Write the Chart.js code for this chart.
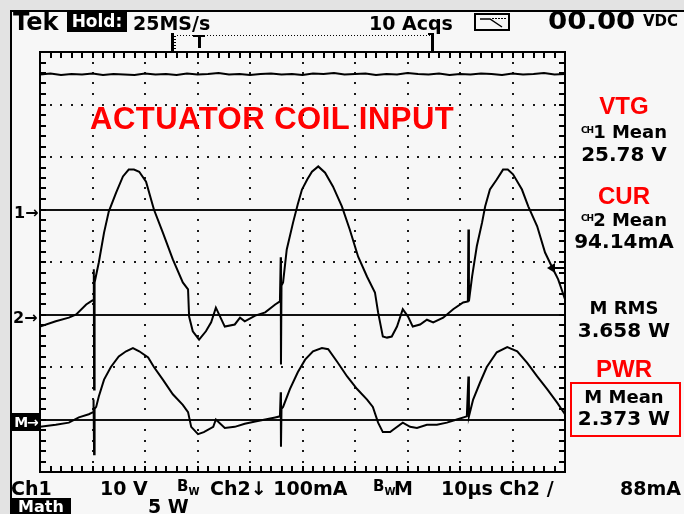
<!DOCTYPE html>
<html>
<head>
<meta charset="utf-8">
<script src="https://cdn.jsdelivr.net/npm/chart.js@4"></script>
<style>
  body { margin: 0; background: #e3e3e3; }
  #pantalla { position: relative; width: 684px; height: 514px; overflow: hidden; }
  #fondo { position: absolute; left: 10px; top: 10px; width: 674px; height: 504px; background: #f7f7f7;
           border-left: 2px solid #000; border-top: 2px solid #000; box-sizing: border-box; }
  #grafico { position: absolute; left: 0; top: 0; }
  .t { position: absolute; font-family: "DejaVu Sans", sans-serif; font-weight: bold; font-size: 19px;
       line-height: 1; white-space: nowrap; color: #000; }
  .inv { background: #000; color: #fff; text-align: center; }
  .rojo { font-family: "Liberation Sans", Arial, sans-serif; color: #f00; }
  .panel { left: 568px; width: 112px; text-align: center; }
  .ch { font-size: 9px; vertical-align: 5px; letter-spacing: -1px; }
  sub { font-size: 10px; vertical-align: -4px; }
</style>
</head>
<body>
<div id="pantalla">
  <div id="fondo"></div>
  <canvas id="grafico" width="684" height="514"></canvas>

  <div class="t" style="left:13px;top:10px;font-size:24px;">Tek</div>
  <div class="t inv" style="left:67px;top:11px;width:60px;height:21px;font-size:17px;line-height:21px;">Hold:</div>
  <div class="t" style="left:133px;top:14px;">25MS/s</div>
  <div class="t" style="left:369px;top:14px;">10 Acqs</div>
  <div class="t" style="left:548px;top:9px;font-size:24px;transform:scaleX(1.15);transform-origin:left top;">00.00</div>
  <div class="t" style="left:643px;top:14px;font-size:15px;">VDC</div>

  <div class="t rojo" style="left:90px;top:103px;font-size:31px;letter-spacing:0.5px;">ACTUATOR COIL INPUT</div>

  <div class="t" style="left:14px;top:205px;font-size:16px;">1→</div>
  <div class="t" style="left:13px;top:310px;font-size:16px;">2→</div>
  <div class="t inv" style="left:12px;top:413px;width:28px;height:18px;font-size:14px;line-height:18px;letter-spacing:-1px;">M→</div>

  <div class="t rojo panel" style="top:94px;font-size:24px;">VTG</div>
  <div class="t panel" style="top:123px;font-size:18px;"><span class="ch">CH</span>1 Mean</div>
  <div class="t panel" style="top:144px;font-size:20px;">25.78 V</div>
  <div class="t rojo panel" style="top:184px;font-size:24px;">CUR</div>
  <div class="t panel" style="top:211px;font-size:18px;"><span class="ch">CH</span>2 Mean</div>
  <div class="t panel" style="top:231px;font-size:20px;">94.14mA</div>
  <div class="t panel" style="top:299px;font-size:18px;">M RMS</div>
  <div class="t panel" style="top:320px;font-size:20px;">3.658 W</div>
  <div class="t rojo panel" style="top:357px;font-size:24px;">PWR</div>
  <div style="position:absolute;left:570px;top:382px;width:111px;height:55px;border:2px solid #f00;box-sizing:border-box;"></div>
  <div class="t panel" style="top:388px;font-size:18px;">M Mean</div>
  <div class="t panel" style="top:408px;font-size:20px;">2.373 W</div>

  <div class="t" style="left:11px;top:479px;">Ch1</div>
  <div class="t" style="left:100px;top:479px;">10 V</div>
  <div class="t" style="left:177px;top:479px;font-size:15px;">B<sub>W</sub></div>
  <div class="t" style="left:210px;top:479px;">Ch2↓ 100mA</div>
  <div class="t" style="left:373px;top:479px;font-size:15px;">B<sub>W</sub></div>
  <div class="t" style="left:394px;top:479px;">M</div>
  <div class="t" style="left:441px;top:479px;">10µs Ch2 /</div>
  <div class="t" style="left:620px;top:479px;">88mA</div>
  <div class="t inv" style="left:11px;top:498px;width:60px;height:16px;font-size:16px;line-height:17px;">Math</div>
  <div class="t" style="left:148px;top:497px;">5 W</div>
</div>

<script>
// escalas del osciloscopio (divisiones)
const divisionesX = 10;
const divisionesY = 8;
const usPorDiv = 10;
const ch1Ref = 5, ch2Ref = 3, mathRef = 1;
const voltsPorDiv = 10, maPorDiv = 100, wattsPorDiv = 5;
const disparoMa = 88;

// Ch1 (V)
const ch1Tiempo = [0, 2, 4, 6, 8, 10, 12, 14, 16, 18,
  20, 22, 24, 26, 28, 30, 32, 34, 36, 38,
  40, 42, 44, 46, 48, 50, 52, 54, 56, 58,
  60, 62, 64, 66, 68, 70, 72, 74, 76, 78,
  80, 82, 84, 86, 88, 90, 92, 94, 96, 98, 100];
const ch1Volts = [25.7, 25.9, 25.6, 25.8, 25.7, 25.9, 25.6, 25.8, 25.7, 25.6,
  25.9, 25.7, 25.8, 25.6, 25.9, 25.7, 25.8, 26.0, 25.7, 25.8,
  25.6, 25.8, 25.9, 25.7, 25.8, 25.6, 25.9, 25.8, 26.0, 25.7,
  25.8, 25.9, 25.6, 25.8, 25.7, 26.0, 25.8, 25.7, 25.9, 25.6,
  25.8, 25.7, 25.9, 25.8, 25.6, 25.9, 25.7, 25.8, 26.0, 25.7, 25.8];

// Ch2 (mA)
const ch2Tiempo = [0, 3.0, 5.5, 6.9, 8.8, 9.7, 10.2, 10.25, 10.3, 10.4,
  11.2, 12.2, 13.1, 14.5, 15.8, 16.9, 17.9, 18.9, 20.2, 21.7,
  23.4, 25.3, 27.2, 28.2, 28.4, 29.1, 30.3, 31.6, 32.6, 33.5,
  35.2, 37.1, 38.1, 39.0, 41.0, 42.9, 44.8, 45.7, 45.85, 45.9,
  46.0, 46.3, 47.0, 48.2, 49.1, 49.9, 50.9, 51.8, 53.0, 54.3,
  55.8, 57.5, 59.0, 60.6, 62.3, 63.8, 64.4, 65.3, 66.1, 67.0,
  68.0, 69.1, 70.1, 71.0, 72.4, 73.7, 74.9, 76.8, 78.7, 80.6,
  81.5, 81.6, 81.7, 82.3, 83.2, 84.2, 84.8, 85.7, 87.0, 88.2,
  89.1, 90.1, 91.8, 93.0, 94.7, 96.2, 97.5, 98.7, 100];
const ch2Ma = [-23, -13, -6, 0, 19, 25, 28, 86, -143, 61,
  99, 156, 196, 232, 263, 276, 276, 272, 253, 200,
  156, 105, 61, 48, -4, -32, -48, -32, -15, 13,
  -23, -19, -6, -13, -2, 4, 19, 25, 109, -95,
  55, 61, 124, 175, 210, 238, 257, 272, 282, 270,
  244, 206, 162, 110, 72, 42, 4, -42, -44, -42,
  -23, 10, -4, -23, -19, -10, -15, -6, 10, 23,
  25, 162, 25, 72, 130, 175, 206, 238, 257, 276,
  276, 267, 238, 206, 168, 118, 91, 67, 29];

// Math (W)
const mathTiempo = [0, 3.0, 5.5, 7.4, 9.3, 10.1, 10.2, 10.3, 10.4, 10.7,
  11.2, 12.2, 13.5, 15.0, 16.4, 17.7, 18.9, 20.6, 21.7, 23.4,
  25.3, 27.2, 28.2, 28.8, 30.1, 31.2, 33.0, 33.5, 35.2, 37.1,
  39.0, 41.0, 42.9, 44.8, 45.7, 45.85, 45.9, 46.0, 46.3, 47.6,
  49.1, 50.5, 52.0, 53.7, 54.9, 56.6, 58.5, 60.4, 62.3, 63.4,
  64.4, 65.3, 66.7, 67.2, 69.1, 70.5, 71.8, 73.7, 75.6, 77.5,
  79.4, 81.3, 81.6, 81.7, 82.5, 83.8, 85.1, 87.0, 89.0, 90.9,
  92.8, 94.7, 96.6, 98.5, 100];
const mathWatts = [-0.7, -0.5, -0.3, 0.2, 0.5, 0.7, 1.9, -3.3, 1.0, 1.2,
  2.2, 3.8, 5.0, 6.0, 6.5, 6.8, 6.5, 5.9, 5.0, 3.8,
  2.4, 1.4, 0.7, -0.7, -1.4, -1.2, -0.7, 0, -0.8, -0.7,
  -0.4, -0.2, 0, 0.2, 0.3, 2.6, -2.6, 1.0, 1.2, 2.9,
  4.5, 5.7, 6.5, 6.8, 6.7, 5.5, 4.1, 2.9, 1.9, 1.2,
  -0.3, -1.2, -1.2, -1.0, -0.3, -0.7, -0.8, -0.5, -0.5, -0.3,
  0, 0.3, 4.1, 0.3, 1.9, 3.5, 5.0, 6.4, 6.9, 6.5,
  5.4, 4.1, 2.9, 1.6, 0.5];

function traza(tiempos, valores, ref, porDiv) {
  return tiempos.map((t, i) => ({ x: t, y: ref + valores[i] / porDiv }));
}

const reticula = {
  id: "reticula",
  beforeDatasetsDraw(chart) {
    const { ctx, chartArea: a, scales } = chart;
    const sx = scales.x, sy = scales.y;
    ctx.save();
    ctx.fillStyle = "#1a1a1a";
    // puntos de la reticula
    for (let i = 1; i < divisionesX; i++) {
      const px = Math.round(sx.getPixelForValue(i * usPorDiv));
      for (let j = 1; j < divisionesY * 5; j++) {
        const py = Math.round(sy.getPixelForValue(j / 5));
        ctx.fillRect(px - 1, py - 1, 2, 2);
      }
    }
    for (let j = 1; j < divisionesY; j++) {
      const py = Math.round(sy.getPixelForValue(j));
      for (let i = 1; i < divisionesX * 5; i++) {
        const px = Math.round(sx.getPixelForValue(i * usPorDiv / 5));
        ctx.fillRect(px - 1, py - 1, 2, 2);
      }
    }
    // lineas de referencia
    ctx.fillStyle = "#111";
    [ch1Ref, ch2Ref, mathRef].forEach((r) => {
      const py = Math.round(sy.getPixelForValue(r));
      ctx.fillRect(a.left, py - 1, a.right - a.left, 2);
    });
    // marco con marcas
    ctx.fillStyle = "#000";
    ctx.fillRect(a.left - 1, a.top - 1, a.right - a.left + 2, 2);
    ctx.fillRect(a.left - 1, a.bottom - 1, a.right - a.left + 2, 2);
    ctx.fillRect(a.left - 1, a.top - 1, 2, a.bottom - a.top + 2);
    ctx.fillRect(a.right - 1, a.top - 1, 2, a.bottom - a.top + 2);
    for (let i = 1; i < divisionesX * 5; i++) {
      const px = Math.round(sx.getPixelForValue(i * usPorDiv / 5));
      ctx.fillRect(px - 1, a.top, 2, 6);
      ctx.fillRect(px - 1, a.bottom - 6, 2, 6);
    }
    for (let j = 1; j < divisionesY * 5; j++) {
      const py = Math.round(sy.getPixelForValue(j / 5));
      ctx.fillRect(a.left, py - 1, 6, 2);
      ctx.fillRect(a.right - 6, py - 1, 6, 2);
    }
    ctx.restore();
  },
  afterDraw(chart) {
    const { ctx, chartArea: a, scales } = chart;
    ctx.save();
    ctx.fillStyle = "#000";
    // nivel de disparo
    const py = Math.round(scales.y.getPixelForValue(ch2Ref + disparoMa / maPorDiv));
    ctx.fillRect(a.right - 14, py - 1, 14, 2);
    ctx.beginPath();
    ctx.moveTo(a.right - 18, py);
    ctx.lineTo(a.right - 10, py - 5);
    ctx.lineTo(a.right - 10, py + 5);
    ctx.closePath();
    ctx.fill();
    // barra de registro
    ctx.fillRect(171, 33, 3, 19);
    for (let y = 36; y < 52; y += 3) ctx.fillRect(174, y, 2, 1);
    for (let x = 177; x < 432; x += 3) ctx.fillRect(x, 35, 1, 1);
    ctx.fillRect(193, 35, 12, 2);
    ctx.fillRect(198, 35, 3, 13);
    ctx.fillRect(431, 33, 3, 19);
    ctx.fillRect(428, 33, 4, 2);
    // icono
    ctx.lineWidth = 2;
    ctx.strokeRect(475, 14, 34, 16);
    ctx.lineWidth = 1.5;
    ctx.beginPath();
    ctx.moveTo(480, 19);
    ctx.lineTo(490, 19);
    ctx.lineTo(502, 27);
    ctx.stroke();
    for (let x = 492; x < 505; x += 3) ctx.fillRect(x, 18, 2, 1);
    ctx.restore();
  },
};

const ctx = document.getElementById("grafico").getContext("2d");
const estilo = { borderColor: "#000", borderWidth: 2, pointRadius: 0, tension: 0, fill: false };

new Chart(ctx, {
  type: "line",
  data: {
    datasets: [
      { ...estilo, label: "Ch1", data: traza(ch1Tiempo, ch1Volts, ch1Ref, voltsPorDiv) },
      { ...estilo, label: "Ch2", data: traza(ch2Tiempo, ch2Ma, ch2Ref, maPorDiv) },
      { ...estilo, label: "Math", data: traza(mathTiempo, mathWatts, mathRef, wattsPorDiv) },
    ],
  },
  options: {
    responsive: false,
    animation: false,
    devicePixelRatio: 1,
    layout: { padding: { left: 40, top: 52, right: 119, bottom: 42 } },
    scales: {
      x: { type: "linear", min: 0, max: divisionesX * usPorDiv, display: false },
      y: { type: "linear", min: 0, max: divisionesY, display: false },
    },
    plugins: { legend: { display: false }, tooltip: { enabled: false } },
  },
  plugins: [reticula],
});
</script>
</body>
</html>
